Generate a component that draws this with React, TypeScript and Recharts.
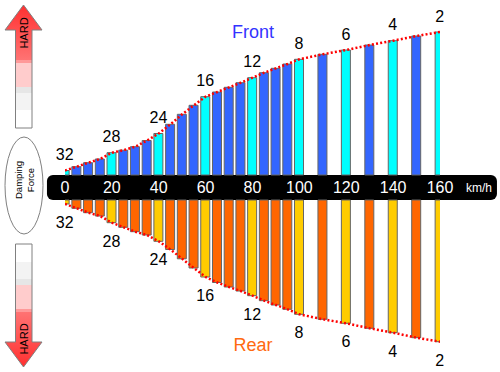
import React from 'react';
import { ComposedChart, Bar, Line, XAxis, YAxis, Cell, LabelList, ReferenceArea } from 'recharts';

// ---------- data ----------
const speeds = [0, 5, 10, 15, 20, 25, 30, 35, 40, 45, 50, 55, 60, 65, 70, 75, 80, 85, 90, 95, 100, 110, 120, 130, 140, 150, 160];
const frontForce = [4.5, 8.3, 12.3, 16, 22.3, 24.8, 28.3, 34.5, 41.5, 50.7, 60.7, 69.7, 78.3, 83, 87.7, 92.3, 97.3, 102.3, 106.7, 111, 115.7, 120.7, 125, 130, 134.3, 139, 143];
const rearForce = [4, 8.3, 12.7, 16, 22.7, 27.3, 31.7, 35, 41.3, 49.5, 58.8, 68, 77, 82.5, 87, 91, 95.7, 100.7, 105, 109.3, 114.3, 119.3, 123.3, 128.3, 132.7, 137.7, 141.7];
const markedSpeeds = [0, 20, 40, 60, 80, 100, 120, 140, 160];
const clickSettings = [32, 28, 24, 16, 12, 8, 6, 4, 2];
const speedTicks = [0, 20, 40, 60, 80, 100, 120, 140, 160];

// ---------- layout ----------
const W = 500;
const H = 372;
const MARGIN = { top: 5, right: 60, bottom: 2, left: 65 };
const HALF = (H - MARGIN.top - MARGIN.bottom) / 2; // 182.5
const GAP = 12.5;
const BAND_Y = MARGIN.top + HALF;
const FONT = '"Liberation Sans", Arial, Helvetica, sans-serif';

const data = speeds.map((s, i) => {
  const k = markedSpeeds.indexOf(s);
  return {
    speed: s,
    gapF: GAP,
    front: frontForce[i],
    gapR: -GAP,
    rear: -rearForce[i],
    frontEdge: GAP + frontForce[i],
    rearEdge: -GAP - rearForce[i],
    click: k >= 0 ? clickSettings[k] : null,
    marked: k >= 0,
  };
});

const FrontLabel = (p: any) => {
  if (p.value === null || p.value === undefined) return null;
  const top = Math.min(p.y, p.y + p.height);
  return (
    <text x={p.x + p.width / 2} y={top - 16} textAnchor="middle" dominantBaseline="central" fontSize={16} fill="#000" fontFamily={FONT}>
      {p.value}
    </text>
  );
};

const RearLabel = (p: any) => {
  if (p.value === null || p.value === undefined) return null;
  const bottom = Math.max(p.y, p.y + p.height);
  return (
    <text x={p.x + p.width / 2} y={bottom + 18.5} textAnchor="middle" dominantBaseline="central" fontSize={16} fill="#000" fontFamily={FONT}>
      {p.value}
    </text>
  );
};

const SpeedTick = (p: any) => (
  <text x={p.x} y={BAND_Y} textAnchor="middle" dominantBaseline="central" fontSize={16} fill="#fff" fontFamily={FONT}>
    {p.payload.value}
  </text>
);

const BandShape = (p: any) => (
  <rect x={p.x} y={p.y} width={p.width} height={p.height} rx={6} ry={6} fill="#000" />
);

const Decorations = () => (
  <svg width={W} height={H} style={{ position: 'absolute', left: 0, top: 0, pointerEvents: 'none' }}>
    <defs>
      <linearGradient id="hardUp" gradientUnits="userSpaceOnUse" x1="0" y1="5" x2="0" y2="128">
        <stop offset="0" stopColor="#FF3030" />
        <stop offset="0.447" stopColor="#FF7373" />
        <stop offset="0.447" stopColor="#FF9999" />
        <stop offset="0.472" stopColor="#FF9999" />
        <stop offset="0.472" stopColor="#FFCCCC" />
        <stop offset="0.667" stopColor="#FFCCCC" />
        <stop offset="0.667" stopColor="#E6E6E6" />
        <stop offset="0.715" stopColor="#E6E6E6" />
        <stop offset="0.715" stopColor="#F3F3F3" />
        <stop offset="0.854" stopColor="#F3F3F3" />
        <stop offset="0.854" stopColor="#FFFFFF" />
        <stop offset="1" stopColor="#FFFFFF" />
      </linearGradient>
    </defs>
    <path d="M15.5 128 L15.5 30 L5 30 L23.5 5 L42 30 L32 30 L32 128 Z" fill="url(#hardUp)" stroke="#808080" strokeWidth={1} />
    <g transform={`translate(0 ${H}) scale(1 -1)`}>
      <path d="M15.5 128 L15.5 30 L5 30 L23.5 5 L42 30 L32 30 L32 128 Z" fill="url(#hardUp)" stroke="#808080" strokeWidth={1} />
    </g>
    <text x={23.5} y={33} transform="rotate(-90 23.5 33)" textAnchor="middle" dominantBaseline="central" fontSize={11} fontFamily={FONT} fill="#000">HARD</text>
    <text x={23.5} y={339} transform="rotate(-90 23.5 339)" textAnchor="middle" dominantBaseline="central" fontSize={11} fontFamily={FONT} fill="#000">HARD</text>
    <ellipse cx={24} cy={185.5} rx={19} ry={48.5} fill="#fff" stroke="#808080" strokeWidth={1} />
    <g transform="rotate(-90 24 180)">
      <text x={24} y={174.5} textAnchor="middle" dominantBaseline="central" fontSize={9.5} fontFamily={FONT} fill="#000">Damping</text>
      <text x={24} y={186} textAnchor="middle" dominantBaseline="central" fontSize={9.5} fontFamily={FONT} fill="#000">Force</text>
    </g>
    <text x={253} y={32} textAnchor="middle" dominantBaseline="central" fontSize={18} fontFamily={FONT} fill="#3333FF">Front</text>
    <text x={253} y={345} textAnchor="middle" dominantBaseline="central" fontSize={18} fontFamily={FONT} fill="#FF6A10">Rear</text>
  </svg>
);

export default function App() {
  return (
    <div style={{ position: 'absolute', left: 0, top: 0, width: W, height: H, background: '#fff', fontFamily: FONT }}>
      <ComposedChart width={W} height={H} data={data} margin={MARGIN} stackOffset="sign" barSize={9}>
        <YAxis hide type="number" domain={[-HALF, HALF]} allowDataOverflow />
        <ReferenceArea
          x1={-7.7}
          x2={184.3}
          y1={-GAP}
          y2={GAP}
          ifOverflow="visible"
          shape={BandShape}
          zIndex={50}
          label={{ value: 'km/h', position: 'insideRight', offset: 5, fill: '#fff', fontSize: 12, fontFamily: FONT }}
        />
        <Bar dataKey="gapF" stackId="s" fill="none" stroke="none" isAnimationActive={false} />
        <Bar dataKey="front" stackId="s" stroke="#666" strokeWidth={1} isAnimationActive={false}>
          {data.map((d, i) => (
            <Cell key={`f${i}`} fill={d.marked ? '#00FFFF' : '#3366FF'} />
          ))}
          <LabelList dataKey="click" content={FrontLabel} />
        </Bar>
        <Bar dataKey="gapR" stackId="s" fill="none" stroke="none" isAnimationActive={false} />
        <Bar dataKey="rear" stackId="s" stroke="#666" strokeWidth={1} isAnimationActive={false}>
          {data.map((d, i) => (
            <Cell key={`r${i}`} fill={d.marked ? '#FFCC00' : '#FF6600'} />
          ))}
          <LabelList dataKey="click" content={RearLabel} />
        </Bar>
        <Line dataKey="frontEdge" type="linear" stroke="#FF0000" strokeWidth={2.5} strokeDasharray="2 2.2" dot={false} isAnimationActive={false} />
        <Line dataKey="rearEdge" type="linear" stroke="#FF0000" strokeWidth={2.5} strokeDasharray="2 2.2" dot={false} isAnimationActive={false} />
        <XAxis
          dataKey="speed"
          type="number"
          domain={[0, 160]}
          ticks={speedTicks}
          interval={0}
          mirror
          height={20}
          zIndex={3000}
          axisLine={false}
          tickLine={false}
          tick={SpeedTick}
          allowDataOverflow
        />
      </ComposedChart>
      <Decorations />
    </div>
  );
}
